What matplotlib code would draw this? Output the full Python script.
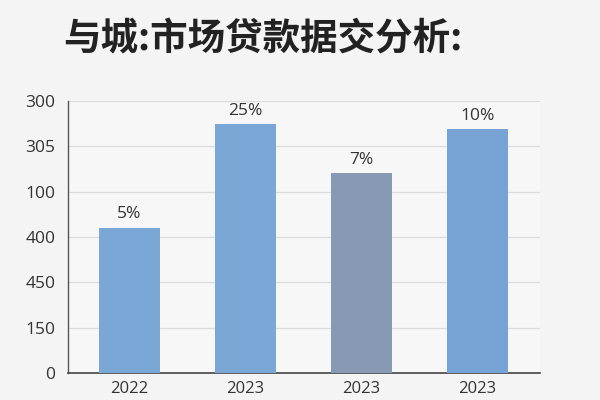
import matplotlib.pyplot as plt

# Values (bar heights in axis-grid units)
years = ["2022", "2023", "2023", "2023"]
heights = [3.2, 5.49, 4.41, 5.38]
pct_labels = ["5%", "25%", "7%", "10%"]
bar_colors = ["#7ba7d7", "#7ba7d7", "#8899b3", "#77a3d4"]
ytick_labels = ["0", "150", "450", "400", "100", "305", "300"]

plt.rcParams["font.family"] = ["Open Sans", "DejaVu Sans"]

fig = plt.figure(figsize=(6, 4), dpi=100, facecolor="#f4f4f4")
ax = fig.add_axes([0.113, 0.0675, 0.787, 0.68])
ax.set_facecolor("#f7f7f7")

x = range(len(years))
bars = ax.bar(x, heights, width=0.53, color=bar_colors, zorder=3)

for rect, lab in zip(bars, pct_labels):
    ax.annotate(
        lab,
        xy=(rect.get_x() + rect.get_width() / 2, rect.get_height()),
        xytext=(0, 4),
        textcoords="offset points",
        ha="center",
        va="bottom",
        fontsize=12.5,
        color="#333333",
    )

ax.set_ylim(0, len(ytick_labels) - 1)
ax.set_yticks(range(len(ytick_labels)))
ax.set_yticklabels(ytick_labels)
ax.set_xlim(-0.53, 3.54)
ax.set_xticks(list(x))
ax.set_xticklabels(years)

ax.tick_params(axis="y", length=0, pad=9, labelsize=12.5, labelcolor="#333333")
ax.tick_params(axis="x", length=0, pad=6, labelsize=12, labelcolor="#333333")

ax.grid(axis="y", color="#dcdcdc", linewidth=0.9, zorder=0)
for side in ("top", "right"):
    ax.spines[side].set_visible(False)
ax.spines["left"].set_color("#555555")
ax.spines["bottom"].set_color("#444444")
ax.spines["left"].set_linewidth(1.0)
ax.spines["bottom"].set_linewidth(1.2)

fig.text(
    0.438,
    0.9025,
    "与城:市场贷款据交分析:",
    ha="center",
    va="center",
    fontsize=27,
    fontweight="bold",
    color="#222222",
    family=["Noto Sans CJK SC", "DejaVu Sans"],
)

fig.savefig("out.png", dpi=100, facecolor=fig.get_facecolor())
